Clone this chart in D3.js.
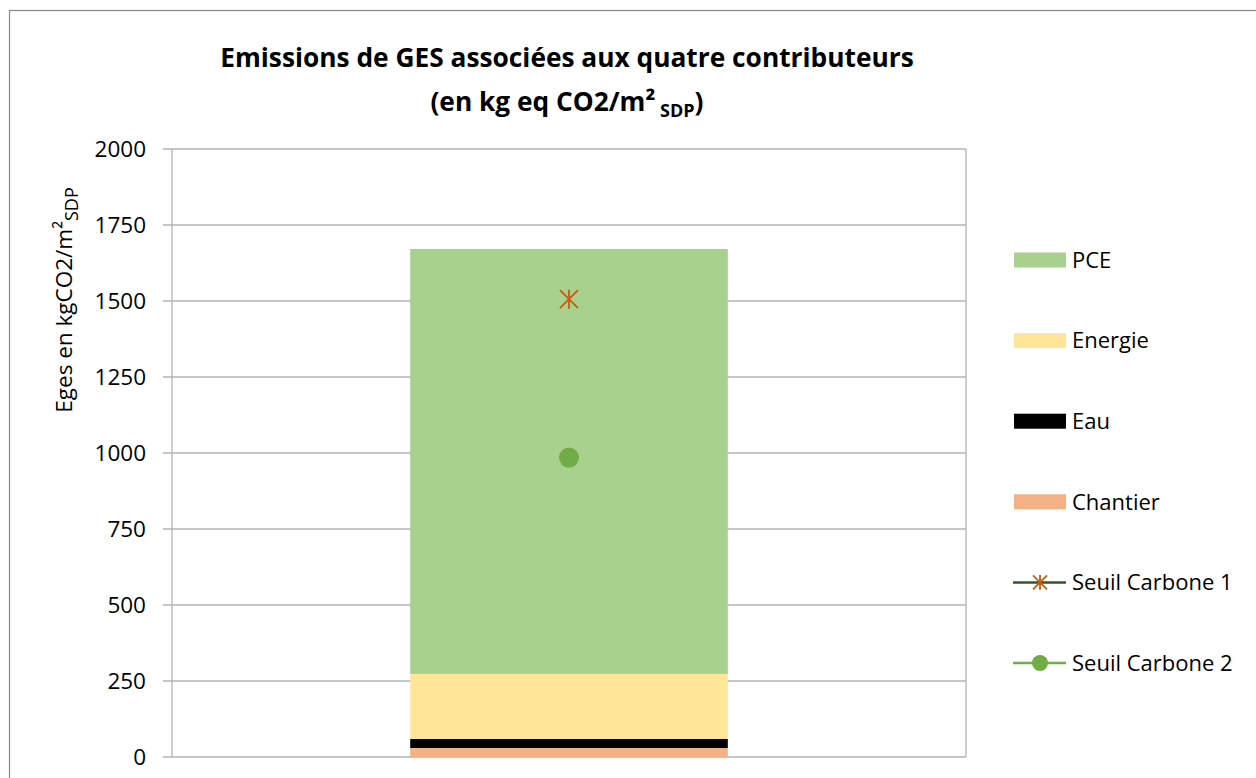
<!DOCTYPE html>
<html><head><meta charset="utf-8">
<script src="https://cdn.jsdelivr.net/npm/d3@7"></script>
<style>
body{margin:0;background:#fff;}
text{font-family:"Open Sans","Noto Sans",sans-serif;}
</style></head>
<body>
<svg id="c" width="1256" height="778"></svg>
<script>
const categories = ["Bâtiment"];
const chantier = [29.6];
const eau = [29.6];
const energie = [214];
const pce = [1398];
const seuil1 = [1506];
const seuil2 = [985];
const yTicks = [0,250,500,750,1000,1250,1500,1750,2000];
const stackNames = ["Chantier","Eau","Energie","PCE"];
const stackColors = {"Chantier":"#f4b183","Eau":"#000000","Energie":"#ffe699","PCE":"#a9d18e"};
const legendItems = ["PCE","Energie","Eau","Chantier","Seuil Carbone 1","Seuil Carbone 2"];

const svg = d3.select("#c");
// outer chart border
svg.append("rect").attr("x",9.5).attr("y",10.5).attr("width",1260).attr("height",800)
  .attr("fill","#fff").attr("stroke","#898989").attr("stroke-width",1.2);

const m = {l:172, r:966, t:149, b:757};
const x = d3.scaleBand().domain(categories).range([m.l,m.r]).paddingInner(0.6).paddingOuter(0.3);
const y = d3.scaleLinear().domain([0,2000]).range([m.b,m.t]);

// gridlines
const g = svg.append("g");
g.selectAll("line.grid").data(yTicks).join("line")
  .attr("x1",m.l-9).attr("x2",m.r).attr("y1",d=>y(d)).attr("y2",d=>y(d))
  .attr("stroke","#b3b3b3").attr("stroke-width",1.3);
g.append("line").attr("x1",m.r).attr("x2",m.r).attr("y1",m.t).attr("y2",m.b).attr("stroke","#b3b3b3").attr("stroke-width",1.3);

// stacked bars
const rows = categories.map((c,i)=>({cat:c,Chantier:chantier[i],Eau:eau[i],Energie:energie[i],PCE:pce[i]}));
const stack = d3.stack().keys(stackNames)(rows);
svg.append("g").selectAll("g").data(stack).join("g").attr("fill",d=>stackColors[d.key])
  .selectAll("rect").data(d=>d).join("rect")
  .attr("x",d=>x(d.data.cat)).attr("width",x.bandwidth())
  .attr("y",d=>y(d[1])).attr("height",d=>y(d[0])-y(d[1]));

// y axis line
svg.append("line").attr("x1",m.l).attr("x2",m.l).attr("y1",m.t).attr("y2",m.b).attr("stroke","#b3b3b3").attr("stroke-width",1.3);
// axis labels via d3 axis
const ax = svg.append("g").attr("transform",`translate(${m.l},0)`)
  .call(d3.axisLeft(y).tickValues(yTicks).tickSize(0).tickPadding(26).tickFormat(d3.format("d")));
ax.select(".domain").remove();
ax.selectAll("text").attr("font-size",22.5).attr("fill","#000").attr("font-family","Open Sans");

// markers
function star(sel, cx, cy, s, color){
  const gg = sel.append("g").attr("stroke",color).attr("stroke-width",1.8);
  gg.append("line").attr("x1",cx-s).attr("y1",cy-s).attr("x2",cx+s).attr("y2",cy+s);
  gg.append("line").attr("x1",cx-s).attr("y1",cy+s).attr("x2",cx+s).attr("y2",cy-s);
  gg.append("line").attr("x1",cx).attr("y1",cy-s*1.05).attr("x2",cx).attr("y2",cy+s*1.05);
}
categories.forEach((c,i)=>{
  const cx = x(c)+x.bandwidth()/2;
  star(svg, cx, y(seuil1[i]), 9, "#c55a11");
  svg.append("circle").attr("cx",cx).attr("cy",y(seuil2[i])).attr("r",10).attr("fill","#70ad47");
});

// title
const t = svg.append("text").attr("text-anchor","middle").attr("font-weight","bold").attr("font-size",26.3).attr("fill","#000");
t.append("tspan").attr("x",567).attr("y",67).text("Emissions de GES associées aux quatre contributeurs");
const t2 = svg.append("text").attr("x",567).attr("y",111).attr("text-anchor","middle").attr("font-weight","bold").attr("font-size",26.3).attr("fill","#000");
t2.append("tspan").text("(en kg eq CO2/m²");
t2.append("tspan").attr("font-size",18).attr("dy",6).text(" SDP");
t2.append("tspan").attr("dy",-6).text(")");

// y label
const yl = svg.append("text").attr("transform","translate(72,300) rotate(-90)").attr("text-anchor","middle").attr("font-size",22.5).attr("fill","#000");
yl.append("tspan").text("Eges en kgCO2/m²");
yl.append("tspan").attr("font-size",18).attr("dy",6).text("SDP");

// legend
const lg = svg.append("g");
const ly0 = 260, lstep = 80.6;
legendItems.forEach((name,i)=>{
  const cy = ly0 + i*lstep;
  if(stackColors[name]){
    lg.append("rect").attr("x",1014).attr("y",cy-7.5).attr("width",52).attr("height",15).attr("fill",stackColors[name]);
  } else if(name==="Seuil Carbone 1"){
    lg.append("line").attr("x1",1013).attr("x2",1066).attr("y1",cy).attr("y2",cy).attr("stroke","#375623").attr("stroke-width",2.5);
    star(lg, 1040, cy, 7, "#c55a11");
  } else {
    lg.append("line").attr("x1",1013).attr("x2",1066).attr("y1",cy).attr("y2",cy).attr("stroke","#70ad47").attr("stroke-width",2.5);
    lg.append("circle").attr("cx",1040).attr("cy",cy).attr("r",8).attr("fill","#70ad47");
  }
  lg.append("text").attr("x",1072).attr("y",cy).attr("dy","0.35em").attr("font-size",22).attr("fill","#000").text(name);
});
</script>
</body></html>
